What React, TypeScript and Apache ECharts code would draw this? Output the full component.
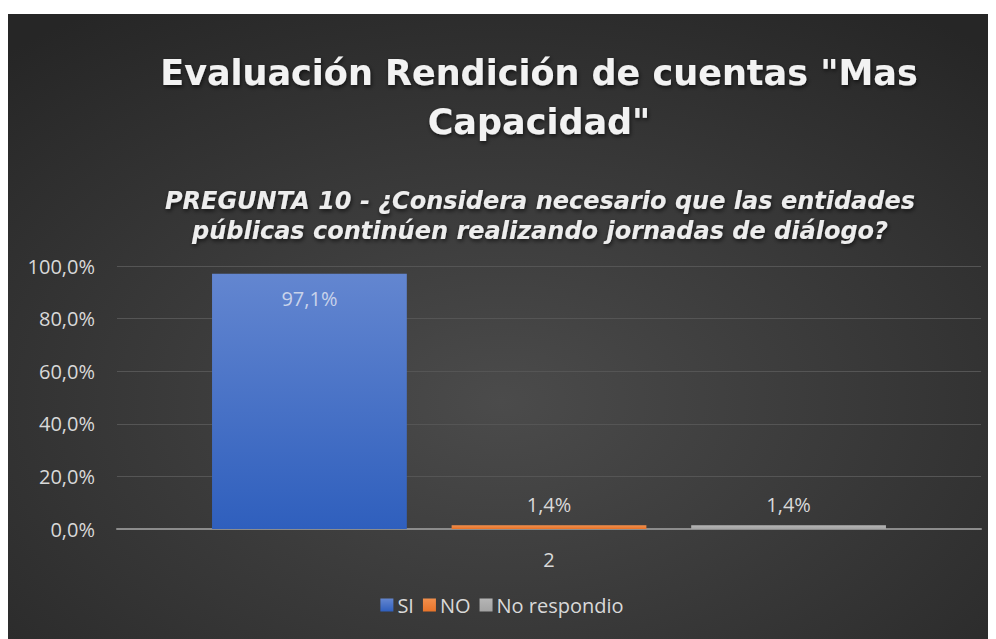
import React, { useEffect, useRef } from "react";
import * as echarts from "echarts";

const categories = ["2"];
const seriesNames = ["SI", "NO", "No respondio"];
const seriesValues = [[97.1], [1.4], [1.4]];
const yTicks = { min: 0, max: 100, interval: 20 };
const titleText = 'Evaluación Rendición de cuentas "Mas\nCapacidad"';
const subtitleText =
  "PREGUNTA 10 - ¿Considera necesario que las entidades\npúblicas continúen realizando jornadas de diálogo?";

const barColors = [
  ["#6386d0", "#2f5fbd"],
  ["#f28f4c", "#e8742a"],
  ["#b5b5b5", "#a3a3a3"],
];

const fmt = (v: number) => v.toFixed(1).replace(".", ",") + "%";

export default function App() {
  const ref = useRef<HTMLDivElement>(null);
  useEffect(() => {
    if (!ref.current) return;
    const chart = echarts.init(ref.current, undefined, { renderer: "svg" });
    const shadow = {
      textShadowColor: "rgba(0,0,0,0.65)",
      textShadowBlur: 4,
      textShadowOffsetX: 1,
      textShadowOffsetY: 2,
    };
    chart.setOption({
      animation: false,
      backgroundColor: {
        type: "radial",
        x: 0.5,
        y: 0.62,
        r: 0.75,
        colorStops: [
          { offset: 0, color: "#4b4b4b" },
          { offset: 1, color: "#262626" },
        ],
      },
      graphic: [
        {
          type: "text",
          x: 531,
          y: 34,
          style: {
            text: titleText,
            fontFamily: "DejaVu Sans",
            fontWeight: "bold",
            fontSize: 35,
            lineHeight: 49,
            fill: "#f2f2f2",
            align: "center",
            textAlign: "center",
            verticalAlign: "top",
            textVerticalAlign: "top",
            ...shadow,
          },
        },
        {
          type: "text",
          x: 532,
          y: 172,
          style: {
            text: subtitleText,
            fontFamily: "DejaVu Sans",
            fontWeight: "bold",
            fontStyle: "italic",
            fontSize: 24,
            lineHeight: 30,
            fill: "#ededed",
            align: "center",
            textAlign: "center",
            verticalAlign: "top",
            textVerticalAlign: "top",
            ...shadow,
          },
        },
      ],
      legend: {
        data: seriesNames,
        bottom: 19,
        left: "center",
        icon: "rect",
        itemWidth: 13,
        itemHeight: 13,
        itemGap: 9,
        textStyle: { color: "#d9d9d9", fontSize: 20, fontFamily: "Open Sans", padding: [0, 0, 0, -1] },
      },
      grid: { left: 109, right: 15, top: 252, bottom: 110 },
      xAxis: {
        type: "category",
        data: categories,
        axisTick: { show: false },
        axisLine: { lineStyle: { color: "#8c8c8c", width: 2 } },
        axisLabel: { color: "#d9d9d9", fontSize: 20, fontFamily: "Open Sans", margin: 20 },
      },
      yAxis: {
        type: "value",
        min: yTicks.min,
        max: yTicks.max,
        interval: yTicks.interval,
        axisLine: { show: false },
        axisTick: { show: false },
        splitLine: { lineStyle: { color: "#555555", width: 1 } },
        axisLabel: {
          color: "#d9d9d9",
          fontSize: 20,
          fontFamily: "Open Sans",
          margin: 22,
          formatter: (v: number) => fmt(v),
        },
      },
      series: seriesNames.map((name, i) => ({
        name,
        type: "bar",
        data: seriesValues[i],
        barGap: "23%",
        barCategoryGap: "22%",
        itemStyle: {
          color: {
            type: "linear",
            x: 0,
            y: 0,
            x2: 0,
            y2: 1,
            colorStops: [
              { offset: 0, color: barColors[i][0] },
              { offset: 1, color: barColors[i][1] },
            ],
          },
        },
        label: {
          show: true,
          position: i === 0 ? "insideTop" : "top",
          distance: i === 0 ? 15 : 11,
          color: i === 0 ? "#c9d3ea" : "#d9d9d9",
          fontSize: 20,
          fontFamily: "Open Sans",
          formatter: (p: any) => fmt(p.value),
        },
      })),
    });
    return () => chart.dispose();
  }, []);
  return (
    <div style={{ paddingTop: 6 }}>
      <div ref={ref} style={{ width: 988, height: 625 }} />
    </div>
  );
}
